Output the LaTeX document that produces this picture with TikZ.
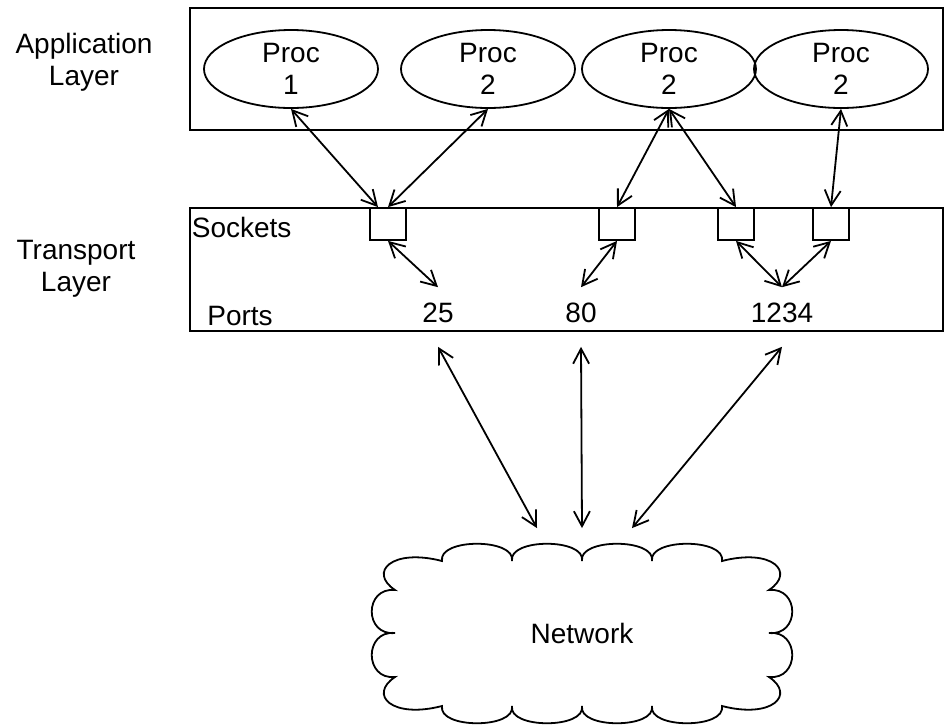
\documentclass[tikz,border=0pt]{standalone}
\usepackage{fontspec}
\setmainfont{Liberation Sans}
\usetikzlibrary{arrows.meta,shapes.geometric}
\tikzstyle{layer} = [rectangle, draw = black, minimum width = 753pt, minimum height = 122pt, inner sep = 0pt]
\tikzstyle{proc} = [ellipse, draw = black, minimum width = 174pt, minimum height = 78pt, inner sep = 0pt, align = center]
\tikzstyle{sock} = [rectangle, draw = black, minimum width = 36pt, minimum height = 32pt, inner sep = 0pt]
\tikzstyle{port} = [inner sep = 3pt]
\tikzstyle{lyr} = [align = center]

\begin{document}
\begin{tikzpicture}[x = 1pt, y = -1pt, line width = 1.8pt, >={Straight Barb[length=15pt,width=16pt]}, font = \fontsize{28}{32}\selectfont]
        \useasboundingbox (0,0) rectangle (945,724);
        % layers
        \node (app) [layer] at (566.5,69) {};
        \node (tl)  [layer, minimum height = 123pt] at (566.5,269.5) {};
        \node (appname) [lyr] at (84,62) {Application\\Layer};
        \node (tlname)  [lyr] at (76,269) {Transport\\Layer};
        % processes
        \node (p1) [proc] at (291,69) {Proc\\1};
        \node (p2) [proc] at (488,69) {Proc\\2};
        \node (p3) [proc] at (669,69) {Proc\\2};
        \node (p4) [proc] at (841,69) {Proc\\2};
        % sockets and ports
        \node (sockets) [anchor = west, inner sep = 1pt] at (190,227) {Sockets};
        \node (ports) at (240,316) {Ports};
        \node (s1) [sock] at (388,224) {};
        \node (s2) [sock] at (617,224) {};
        \node (s3) [sock] at (736,224) {};
        \node (s4) [sock] at (831,224) {};
        \node (p25)   [port] at (438,313) {25};
        \node (p80)   [port] at (581,313) {80};
        \node (p1234) [port] at (782,313) {1234};
        % network cloud
        \node (net) [minimum width = 420pt, minimum height = 178pt] at (582,633) {Network};
        \draw (395,590) .. controls (368,572) and (392,548) .. (442,561)
            .. controls (438,538) and (516,538) .. (512,561)
            .. controls (508,538) and (586,538) .. (582,561)
            .. controls (578,538) and (656,538) .. (652,561)
            .. controls (648,538) and (726,538) .. (722,561)
            .. controls (772,548) and (796,572) .. (769,590)
            .. controls (800,587) and (800,636) .. (769,633)
            .. controls (800,630) and (800,680) .. (769,677)
            .. controls (796,695) and (772,719) .. (722,706)
            .. controls (726,729) and (648,729) .. (652,706)
            .. controls (656,729) and (578,729) .. (582,706)
            .. controls (586,729) and (508,729) .. (512,706)
            .. controls (516,729) and (438,729) .. (442,706)
            .. controls (392,719) and (368,695) .. (395,677)
            .. controls (364,680) and (364,630) .. (395,633)
            .. controls (364,636) and (364,587) .. (395,590) -- cycle;
        \draw [<->] (p1.south) -- ([xshift=-10pt]s1.north);
        \draw [<->] (p2.south) -- (s1.north);
        \draw [<->] (p3.south) -- (s2.north);
        \draw [<->] (p3.south) -- (s3.north);
        \draw [<->] (p4.south) -- (s4.north);
        \draw [<->] (s1.south) -- ([yshift=12pt]p25.north);
        \draw [<->] (s2.south) -- ([yshift=12pt]p80.north);
        \draw [<->] (s3.south) -- ([yshift=12pt]p1234.north);
        \draw [<->] (s4.south) -- ([yshift=12pt]p1234.north);
        \draw [<->] ([yshift=-20pt]p25.south) -- ([xshift=-45pt,yshift=15pt]net.north);
        \draw [<->] ([yshift=-20pt]p80.south) -- ([yshift=15pt]net.north);
        \draw [<->] ([yshift=-20pt]p1234.south) -- ([xshift=50pt,yshift=15pt]net.north);
    \end{tikzpicture}
\end{document}
